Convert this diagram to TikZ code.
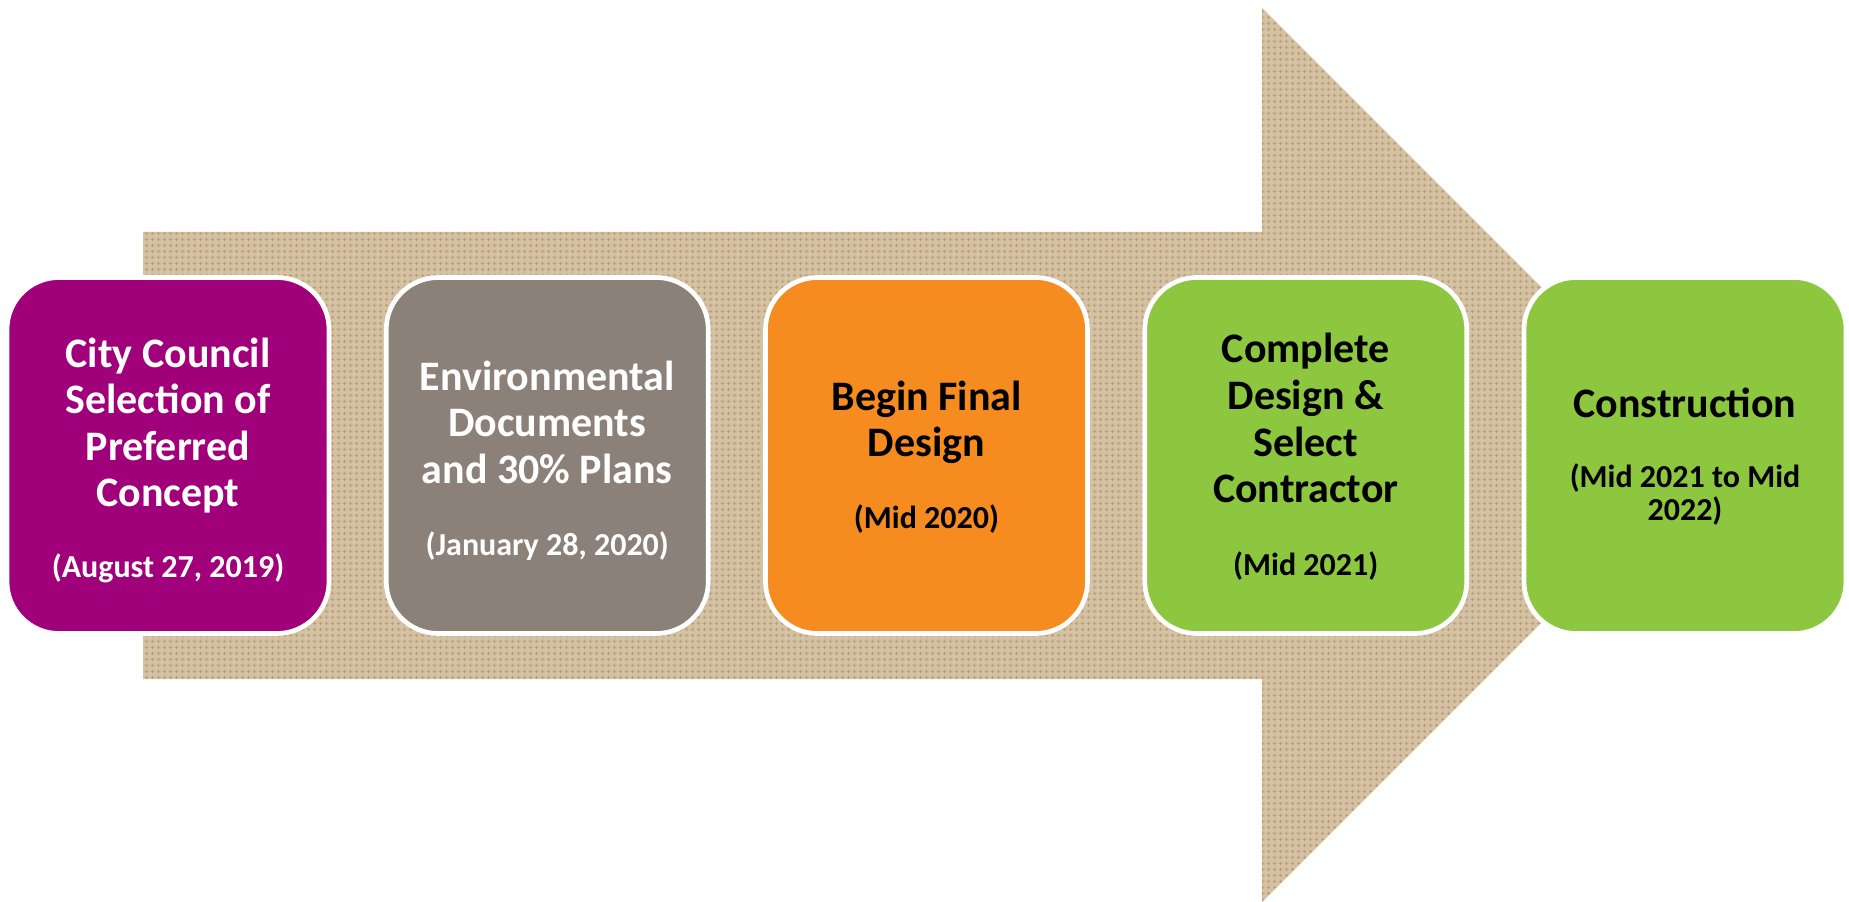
\documentclass[tikz,border=0pt]{standalone}
\usepackage{fontspec}
\setmainfont{Carlito}
\usetikzlibrary{patterns}
\definecolor{tanbase}{HTML}{D4C2A4}
\definecolor{tandark}{HTML}{BEA079}
\definecolor{magentaC}{HTML}{A0007A}
\definecolor{grayC}{HTML}{8B8178}
\definecolor{orangeC}{HTML}{F68B1F}
\definecolor{greenC}{HTML}{8DC63F}
\pgfdeclarepatternformonly{tancross}{\pgfqpoint{0pt}{0pt}}{\pgfqpoint{4.5pt}{4.5pt}}{\pgfqpoint{4.5pt}{4.5pt}}{%
  \pgfpathrectangle{\pgfqpoint{0.75pt}{1.875pt}}{\pgfqpoint{3pt}{0.75pt}}%
  \pgfpathrectangle{\pgfqpoint{1.875pt}{0.75pt}}{\pgfqpoint{0.75pt}{3pt}}%
  \pgfusepath{fill}}
\tikzset{
  stage/.style={draw=white, line width=3.5pt, rounded corners=39pt,
    minimum width=241.5pt, minimum height=267pt, inner sep=0pt},
  ttl/.style={anchor=base, inner sep=0pt, font=\fontsize{31.5}{35}\selectfont\bfseries},
  dte/.style={anchor=base, inner sep=0pt, font=\fontsize{24}{25}\selectfont\bfseries},
}
\begin{document}
\begin{tikzpicture}[x=0.75pt,y=-0.75pt]
\useasboundingbox[fill=white] (0,0) rectangle (1849,902);
% big arrow
\fill[tanbase] (143,232) -- (1262,232) -- (1262,8) -- (1709,455) -- (1262,902) -- (1262,679) -- (143,679) -- cycle;
\fill[pattern=tancross, pattern color=tandark] (143,232) -- (1262,232) -- (1262,8) -- (1709,455) -- (1262,902) -- (1262,679) -- (143,679) -- cycle;
% boxes
\node[stage, fill=magentaC] (b1) at (168,455.5) {};
\node[stage, fill=grayC]    (b2) at (547.25,455.5) {};
\node[stage, fill=orangeC]  (b3) at (926.5,455.5) {};
\node[stage, fill=greenC]   (b4) at (1305.75,455.5) {};
\node[stage, fill=greenC]   (b5) at (1685,455.5) {};
% box 1
\node[ttl, white] (t1a) at (168,367) {City Council};
\node[ttl, white] (t1b) at (168,413.5) {Selection of};
\node[ttl, white] (t1c) at (168,460) {Preferred};
\node[ttl, white] (t1d) at (168,506.5) {Concept};
\node[dte, white] (d1) at (168,577) {(August 27, 2019)};
% box 2
\node[ttl, white] (t2a) at (547.25,390) {Environmental};
\node[ttl, white] (t2b) at (547.25,436.5) {Documents};
\node[ttl, white] (t2c) at (547.25,483) {and 30\% Plans};
\node[dte, white] (d2) at (547.25,555) {(January 28, 2020)};
% box 3
\node[ttl] (t3a) at (926.5,410) {Begin Final};
\node[ttl] (t3b) at (926.5,456.5) {Design};
\node[dte] (d3) at (926.5,528) {(Mid 2020)};
% box 4
\node[ttl] (t4a) at (1305.75,363) {Complete};
\node[ttl] (t4b) at (1305.75,409.5) {Design \&};
\node[ttl] (t4c) at (1305.75,456) {Select};
\node[ttl] (t4d) at (1305.75,502.5) {Contractor};
\node[dte] (d4) at (1305.75,575) {(Mid 2021)};
% box 5
\node[ttl] (t5a) at (1685,417) {Construction};
\node[dte] (d5a) at (1685,487) {(Mid 2021 to Mid};
\node[dte] (d5b) at (1685,520) {2022)};
\end{tikzpicture}
\end{document}
